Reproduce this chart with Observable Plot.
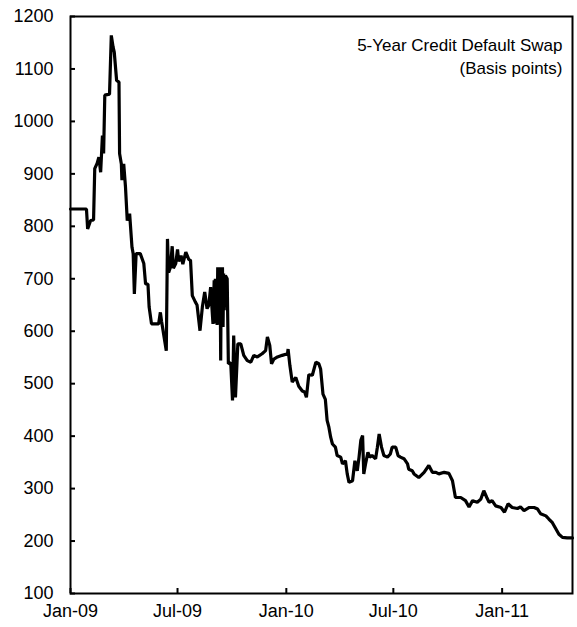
<!DOCTYPE html>
<html>
<head>
<meta charset="utf-8">
<script src="https://cdn.jsdelivr.net/npm/d3@7"></script>
<script src="https://cdn.jsdelivr.net/npm/@observablehq/plot@0.6"></script>
<style>
  html, body { margin: 0; padding: 0; background: #fff; }
  #chart { width: 577px; height: 627px; }
</style>
</head>
<body>
<div id="chart"></div>
<script>
const titleLines = ["5-Year Credit Default Swap", "(Basis points)"];
const xTickDates = ["2009-01-01", "2009-07-01", "2010-01-01", "2010-07-01", "2011-01-01"];
const yTicks = [100, 200, 300, 400, 500, 600, 700, 800, 900, 1000, 1100, 1200];

const dates = [
  "2009-01-01","2009-01-28","2009-01-30","2009-02-04","2009-02-09","2009-02-11","2009-02-15","2009-02-18",
  "2009-02-21","2009-02-24","2009-02-26","2009-02-28","2009-03-08","2009-03-11","2009-03-14","2009-03-16",
  "2009-03-20","2009-03-24","2009-03-25","2009-03-28","2009-03-29","2009-04-01","2009-04-04","2009-04-07",
  "2009-04-11","2009-04-15","2009-04-17","2009-04-19","2009-04-22","2009-04-29","2009-05-05","2009-05-08",
  "2009-05-12","2009-05-14","2009-05-18","2009-05-30","2009-06-02","2009-06-04","2009-06-12","2009-06-14",
  "2009-06-16","2009-06-19","2009-06-22","2009-06-24","2009-06-28","2009-07-01","2009-07-03","2009-07-07",
  "2009-07-10","2009-07-15","2009-07-20","2009-07-23","2009-07-26","2009-07-31","2009-08-03","2009-08-08",
  "2009-08-12","2009-08-16","2009-08-20","2009-08-23","2009-08-26","2009-08-30","2009-09-01","2009-09-02",
  "2009-09-03","2009-09-04","2009-09-05","2009-09-06","2009-09-07","2009-09-08","2009-09-09","2009-09-10",
  "2009-09-11","2009-09-12","2009-09-13","2009-09-14","2009-09-15","2009-09-16","2009-09-17","2009-09-18",
  "2009-09-20","2009-09-23","2009-09-25","2009-09-29","2009-10-02","2009-10-04","2009-10-07","2009-10-11",
  "2009-10-16","2009-10-21","2009-10-27","2009-11-02","2009-11-07","2009-11-13","2009-11-21","2009-11-27",
  "2009-11-30","2009-12-04","2009-12-07","2009-12-11","2009-12-17","2009-12-25","2010-01-03","2010-01-04",
  "2010-01-07","2010-01-11","2010-01-17","2010-01-22","2010-01-28","2010-02-01","2010-02-04","2010-02-08",
  "2010-02-14","2010-02-20","2010-02-25","2010-02-28","2010-03-04","2010-03-08","2010-03-11","2010-03-14",
  "2010-03-17","2010-03-20","2010-03-25","2010-03-28","2010-04-03","2010-04-06","2010-04-11","2010-04-14",
  "2010-04-17","2010-04-23","2010-04-27","2010-05-01","2010-05-04","2010-05-07","2010-05-10","2010-05-12",
  "2010-05-15","2010-05-19","2010-05-22","2010-05-26","2010-06-01","2010-06-04","2010-06-07","2010-06-11",
  "2010-06-15","2010-06-21","2010-06-26","2010-06-29","2010-07-05","2010-07-09","2010-07-13","2010-07-19",
  "2010-07-25","2010-07-27","2010-08-02","2010-08-05","2010-08-13","2010-08-22","2010-08-30","2010-09-05",
  "2010-09-11","2010-09-16","2010-09-25","2010-10-03","2010-10-09","2010-10-14","2010-10-23","2010-10-31",
  "2010-11-06","2010-11-12","2010-11-20","2010-11-26","2010-12-01","2010-12-06","2010-12-10","2010-12-15",
  "2010-12-21","2010-12-30","2011-01-05","2011-01-11","2011-01-18","2011-01-27","2011-02-01","2011-02-07",
  "2011-02-16","2011-02-24","2011-03-02","2011-03-07","2011-03-16","2011-03-21","2011-03-27","2011-04-02",
  "2011-04-07","2011-04-13","2011-04-21","2011-04-30"
];
const cds = [
  833,833,795,811,812,910,920,932,
  903,973,939,1050,1052,1164,1142,1132,
  1078,1075,939,919,888,919,875,811,
  824,760,748,671,748,748,729,690,
  690,646,614,614,636,619,563,776,
  712,722,762,720,729,756,733,744,
  728,751,737,735,668,656,650,601,
  646,675,643,650,684,614,697,615,
  700,620,697,612,722,625,720,614,
  722,544,722,610,722,608,710,640,
  706,700,538,540,468,592,474,576,
  576,554,544,541,554,551,557,563,
  589,573,538,547,551,554,557,566,
  535,503,512,495,486,484,474,517,
  516,541,538,528,480,470,430,417,
  398,385,379,363,360,347,353,328,
  312,315,353,334,360,392,401,328,
  347,369,360,363,357,379,404,379,
  363,360,366,379,379,363,360,357,
  347,337,334,328,321,331,344,331,
  331,328,331,329,315,283,283,277,
  265,277,274,280,296,283,274,277,
  267,264,255,271,264,262,265,258,
  264,264,261,252,248,242,235,223,
  213,207,206,206
];

const data = dates.map((d, i) => ({date: new Date(d), value: cds[i]}));
const fmt = d3.utcFormat("%b-%y");

const chart = Plot.plot({
  width: 577,
  height: 627,
  marginLeft: 70,
  marginRight: 5,
  marginTop: 16,
  marginBottom: 34,
  style: {fontFamily: "'Liberation Sans', Arial, sans-serif", fontSize: "18px", color: "#000", background: "#fff"},
  x: {type: "utc", domain: [new Date("2009-01-01"), new Date("2011-04-30")]},
  y: {domain: [100, 1200]},
  marks: [
    Plot.frame({stroke: "#000", strokeWidth: 2}),
    Plot.axisY({ticks: yTicks, tickSize: -5, tickPadding: 22, strokeWidth: 2, label: null, tickFormat: d => String(d)}),
    Plot.axisX({ticks: xTickDates.map(d => new Date(d)), tickSize: -5, tickPadding: 16, strokeWidth: 2, label: null, tickFormat: fmt}),
    Plot.lineY(data, {x: "date", y: "value", stroke: "#000", strokeWidth: 3.2, strokeLinejoin: "miter"}),
    Plot.text([titleLines.join("\n")], {frameAnchor: "top-right", dx: -10, dy: 18, textAnchor: "end", lineAnchor: "top", lineHeight: 1.35, fontSize: 17})
  ]
});
document.getElementById("chart").appendChild(chart);
</script>
</body>
</html>
